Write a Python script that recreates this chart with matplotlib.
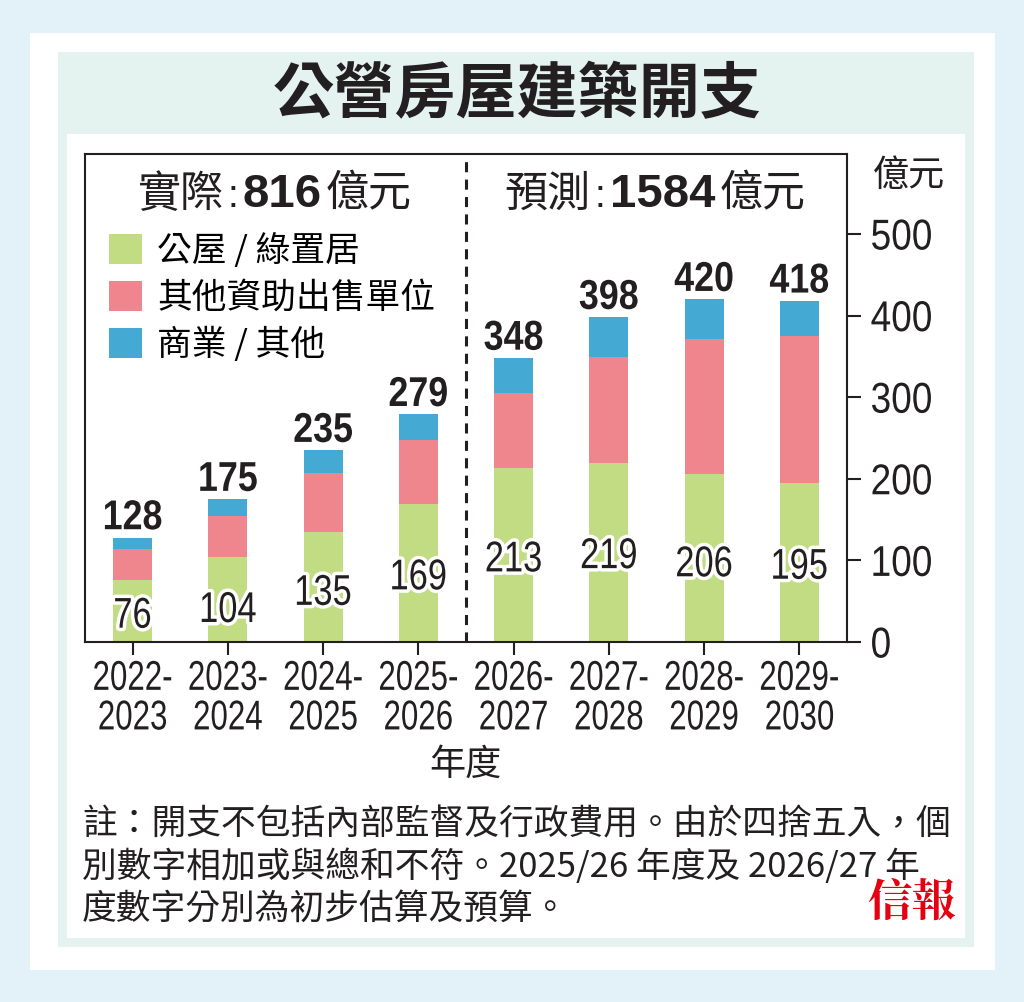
"""公營房屋建築開支 stacked bar chart (實際 vs 預測)."""

import matplotlib

matplotlib.use("Agg")
import matplotlib.pyplot as plt  # noqa: E402
import matplotlib.patheffects as pe  # noqa: E402
import numpy as np  # noqa: E402
from matplotlib import font_manager  # noqa: E402
from matplotlib.offsetbox import AnnotationBbox, HPacker, TextArea  # noqa: E402
from matplotlib.patches import Rectangle  # noqa: E402
from matplotlib.transforms import Affine2D  # noqa: E402

# ---- data -------------------------------------------------------------
years = ["2022-\n2023", "2023-\n2024", "2024-\n2025", "2025-\n2026",
         "2026-\n2027", "2027-\n2028", "2028-\n2029", "2029-\n2030"]
public_housing = [76, 104, 135, 169, 213, 219, 206, 195]
other_subsidised = [38, 50, 72, 79, 92, 130, 165, 180]
commercial = [14, 21, 28, 31, 43, 49, 49, 43]
totals = [128, 175, 235, 279, 348, 398, 420, 418]
series_names = ["公屋 / 綠置居", "其他資助出售單位", "商業 / 其他"]
actual_total = 816
forecast_total = 1584
notes = [
    "註：開支不包括內部監督及行政費用。由於四捨五入，個",
    "別數字相加或與總和不符。2025/26 年度及 2026/27 年",
    "度數字分別為初步估算及預算。",
]

# where the green-segment numbers sit (data units)
green_label_y = [31, 38, 59, 78, 100, 104, 94, 91]

# ---- style ------------------------------------------------------------
GREEN = "#c1dc82"
PINK = "#ef858d"
BLUE = "#45aad3"
INK = "#231f20"
W, H = 1024, 1002

installed = {f.name for f in font_manager.fontManager.ttflist}
NARROW = "Liberation Sans Narrow" if "Liberation Sans Narrow" in installed else "Liberation Sans"
SANS = "Liberation Sans"
CJK = ["Noto Sans CJK TC", "DejaVu Sans"]


class Squeeze(pe.AbstractPathEffect):
    """Compress glyphs horizontally (the original uses a condensed face)."""

    def __init__(self, sx, sy=1.0, anchor="center", inner=None):
        super().__init__()
        self.sx = sx
        self.sy = sy
        self.anchor = anchor
        self.inner = inner or [pe.Normal()]

    def draw_path(self, renderer, gc, tpath, affine, rgbFace=None):
        xs = tpath.vertices[:, 0]
        if len(xs) == 0:
            return
        cx = 0.0 if self.anchor == "left" else (xs.min() + xs.max()) / 2
        squeeze = Affine2D().translate(-cx, 0).scale(self.sx, self.sy).translate(cx, 0)
        for eff in self.inner:
            eff.draw_path(renderer, gc, tpath, squeeze + affine, rgbFace)


fig = plt.figure(figsize=(W / 100, H / 100), dpi=100, facecolor="#e3f2f8")


def panel(x0, y0, x1, y1, color):
    fig.add_artist(Rectangle((x0 / W, 1 - y1 / H), (x1 - x0) / W, (y1 - y0) / H,
                             transform=fig.transFigure, facecolor=color,
                             edgecolor="none", zorder=-10))


panel(30, 33, 995, 970, "white")
panel(58, 52, 974, 947, "#e4f3f0")
panel(67, 134, 965, 938, "white")

fig.text(517 / W, 1 - 95 / H, "公營房屋建築開支", ha="center", va="center",
         fontsize=44, fontweight="bold", family=CJK, color=INK)

ax = fig.add_axes([85 / W, 1 - 642 / H, (847 - 85) / W, (642 - 154) / H])
x = np.arange(len(years))
width = 0.41
b1 = ax.bar(x, public_housing, width, color=GREEN)
b2 = ax.bar(x, other_subsidised, width, bottom=public_housing, color=PINK)
b3 = ax.bar(x, commercial, width, bottom=np.add(public_housing, other_subsidised), color=BLUE)

ax.set_xlim(-0.5, 7.5)
ax.set_ylim(0, 598)
ax.yaxis.tick_right()
ax.set_yticks(range(0, 501, 100))
ax.tick_params(axis="y", direction="out", length=10, width=1.5, pad=7,
               labelsize=31, labelcolor=INK, color=INK, labelfontfamily=NARROW)
ax.set_xticks(x, years, fontsize=26.5, family=NARROW, color=INK, linespacing=1.17)
ax.tick_params(axis="x", direction="out", length=9, width=1.5, pad=6, color=INK)
for lbl in ax.get_yticklabels():
    lbl.set_path_effects([Squeeze(0.86, anchor="left")])
for lbl in ax.get_xticklabels():
    lbl.set_path_effects([Squeeze(0.85, sy=1.13)])
for s in ax.spines.values():
    s.set_linewidth(1.5)
    s.set_color(INK)

ax.axvline(3.5, color=INK, lw=2.2, dashes=(3.3, 2.4))

for i, t in enumerate(totals):
    ax.annotate(str(t), (x[i], t), xytext=(0, 6), textcoords="offset points",
                ha="center", va="baseline", fontsize=30, fontweight="bold",
                family=NARROW, color=INK, path_effects=[Squeeze(0.86)])
for i, v in enumerate(public_housing):
    ax.text(x[i], green_label_y[i], str(v), ha="center", va="center",
            fontsize=31, family=NARROW, color=INK,
            path_effects=[Squeeze(0.8, inner=[pe.withStroke(linewidth=5, foreground="white")])])


def heading(xfrac, label, value):
    parts = [
        TextArea(label, textprops=dict(fontsize=31, family=CJK, color=INK)),
        TextArea(":", textprops=dict(fontsize=28, family=SANS, color=INK)),
        TextArea(str(value), textprops=dict(fontsize=34, family=SANS,
                                            fontweight="bold", color=INK)),
        TextArea("億元", textprops=dict(fontsize=31, family=CJK, color=INK)),
    ]
    box = HPacker(children=parts, align="baseline", pad=0, sep=3)
    ax.add_artist(AnnotationBbox(box, (xfrac, 0.917), xycoords="axes fraction",
                                 frameon=False, box_alignment=(0.5, 0.5)))


heading(0.249, "實際", actual_total)
heading(0.748, "預測", forecast_total)

ax.legend([b1, b2, b3], series_names, loc="upper left", bbox_to_anchor=(0.031, 0.836),
          frameon=False, borderpad=0, borderaxespad=0, handlelength=0.95,
          handleheight=0.95, handletextpad=0.45, labelspacing=0.34,
          prop={"family": CJK, "size": 25})

fig.text(873 / W, 1 - 176 / H, "億元", ha="left", va="center", fontsize=26,
         family=CJK, color=INK)
fig.text(465 / W, 1 - 765 / H, "年度", ha="center", va="center", fontsize=26,
         family=CJK, color=INK)

for k, line in enumerate(notes):
    fig.text(82 / W, 1 - (825 + 42 * k) / H, line, ha="left", va="center",
             fontsize=25, family=CJK, color=INK)
fig.text(912 / W, 1 - 903 / H, "信報", ha="center", va="center", fontsize=32,
         fontweight="bold", family=["Noto Serif CJK TC", "Noto Sans CJK TC"],
         color="#e50012")

fig.savefig("out.png", dpi=100, facecolor=fig.get_facecolor())
